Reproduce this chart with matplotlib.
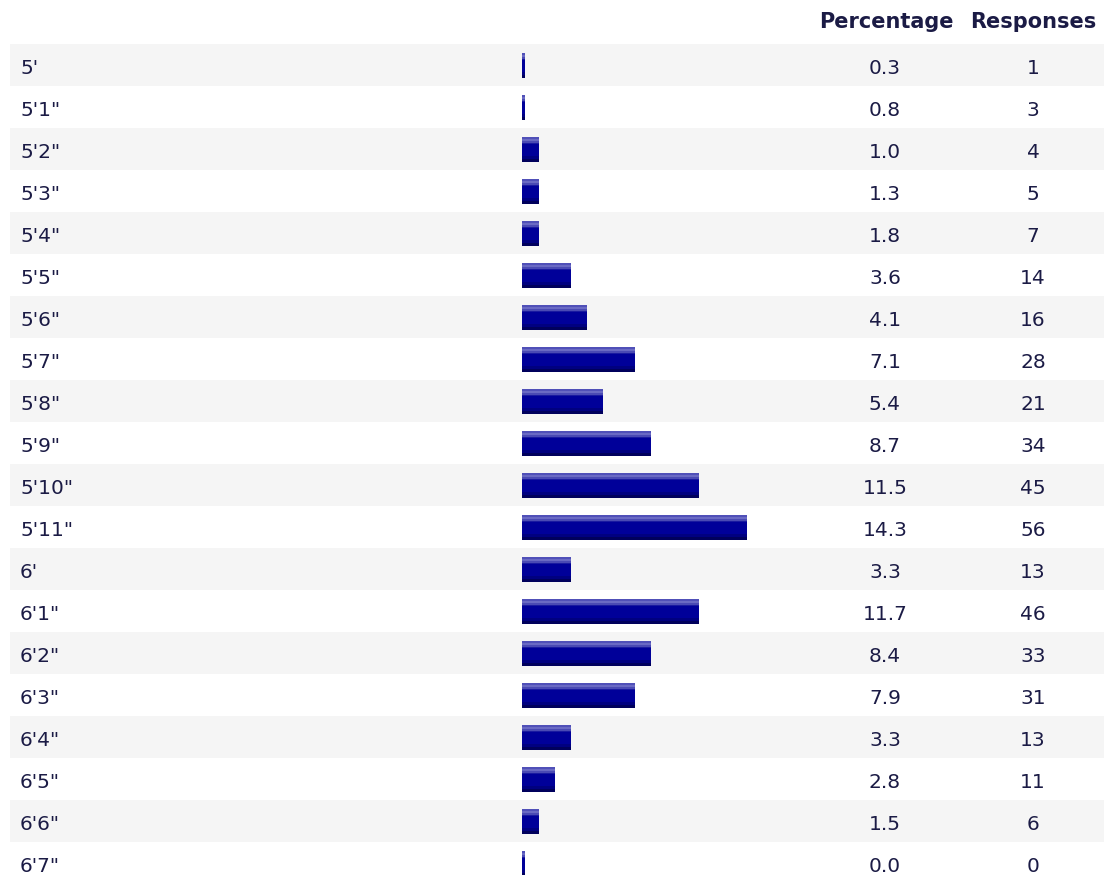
import numpy as np
import matplotlib
matplotlib.use("Agg")
import matplotlib.pyplot as plt
from matplotlib.transforms import blended_transform_factory

# ---- data ----
heights = ["5'", "5'1\"", "5'2\"", "5'3\"", "5'4\"", "5'5\"", "5'6\"", "5'7\"", "5'8\"",
           "5'9\"", "5'10\"", "5'11\"", "6'", "6'1\"", "6'2\"", "6'3\"", "6'4\"",
           "6'5\"", "6'6\"", "6'7\""]
percentages = [0.3, 0.8, 1.0, 1.3, 1.8, 3.6, 4.1, 7.1, 5.4, 8.7, 11.5, 14.3, 3.3,
               11.7, 8.4, 7.9, 3.3, 2.8, 1.5, 0.0]
responses = [1, 3, 4, 5, 7, 14, 16, 28, 21, 34, 45, 56, 13, 46, 33, 31, 13, 11, 6, 0]
col_headers = ["Percentage", "Responses"]

# ---- layout (pixels) ----
W, H = 1104, 875
ROW_H = 42.0
ROW0_CENTER = 65.0
BAR_X0 = 522.0
PX_PER_UNIT = 16.0

text_color = "#1b1b45"
stripe_color = "#f5f5f5"

fig = plt.figure(figsize=(W / 100, H / 100), dpi=100)
ax = fig.add_axes([0, 0, 1, 1])
ax.set_xlim(-BAR_X0 / PX_PER_UNIT, (W - BAR_X0) / PX_PER_UNIT)
ax.set_ylim((H - ROW0_CENTER) / ROW_H, -ROW0_CENTER / ROW_H)
ax.axis("off")

n = len(heights)
ypos = np.arange(n)

# alternating row backgrounds
for i in ypos:
    if i % 2 == 0:
        ax.axhspan(i - 0.5, i + 0.5, xmin=10 / W, xmax=1.0, color=stripe_color, lw=0, zorder=0)

# bar widths in display steps (whole percent), with a minimum hairline
steps = np.floor(np.array(percentages))
widths = np.maximum(steps + 1 / PX_PER_UNIT, 3 / PX_PER_UNIT)

bar_top = -12 / ROW_H

def band(offset_px, height_px, color):
    ax.barh(ypos + bar_top + (offset_px + height_px / 2) / ROW_H, widths,
            height=height_px / ROW_H, left=0, color=color, lw=0, zorder=2)

band(0, 25, "#000099")
band(0, 2, "#5050b8")
band(2, 2, "#6a6ac4")
band(4, 2, "#4a4ab4")
band(6, 1, "#1a1aa0")
band(19, 3, "#000080")
band(22, 3, "#00005c")

tr = blended_transform_factory(fig.transFigure, ax.transData)
fs = 14.5
base_off = 9 / ROW_H
for i, (lab, p, r) in enumerate(zip(heights, percentages, responses)):
    ax.text(20 / W, i + base_off, lab, transform=tr, ha="left", va="baseline",
            fontsize=fs, color=text_color, family="DejaVu Sans")
    ax.text(885 / W, i + base_off, f"{p:.1f}", transform=tr, ha="center", va="baseline",
            fontsize=fs, color=text_color, family="DejaVu Sans")
    ax.text(1033 / W, i + base_off, f"{r}", transform=tr, ha="center", va="baseline",
            fontsize=fs, color=text_color, family="DejaVu Sans")

hdr_y = (28 - ROW0_CENTER) / ROW_H
ax.text(886 / W, hdr_y, col_headers[0], transform=tr, ha="center", va="baseline",
        fontsize=15, fontweight="bold", color=text_color, family="DejaVu Sans")
ax.text(1033 / W, hdr_y, col_headers[1], transform=tr, ha="center", va="baseline",
        fontsize=15, fontweight="bold", color=text_color, family="DejaVu Sans")

fig.savefig("out.png", dpi=100, facecolor="white")
